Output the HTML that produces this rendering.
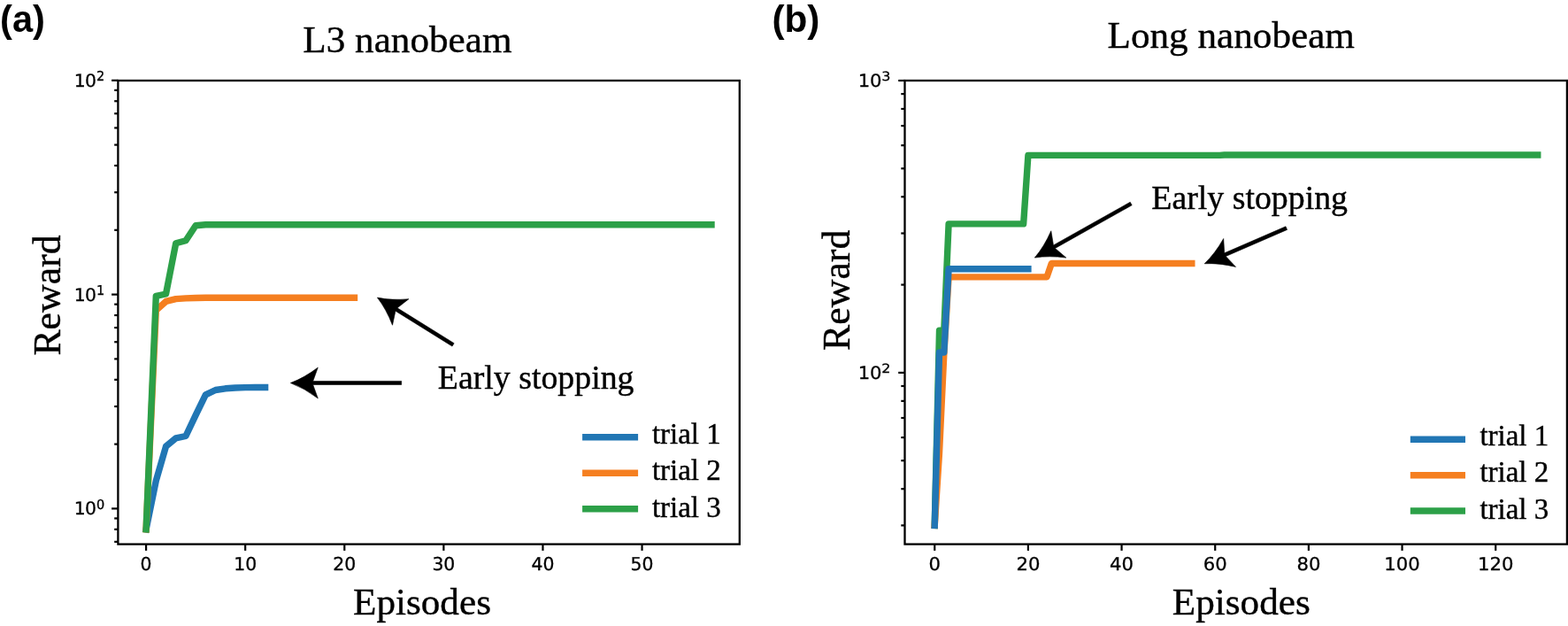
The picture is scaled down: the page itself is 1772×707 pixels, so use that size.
<!DOCTYPE html>
<html><head><meta charset="utf-8"><title>Reward vs Episodes</title>
<style>html,body{margin:0;padding:0;background:#fff;} svg{display:block;}</style>
</head><body>
<svg width="1772" height="707" viewBox="0 0 1772 707">
<rect width="1772" height="707" fill="#fff"/>
<path d="M165.1,597.8 L176.31,543 L187.52,504.2 L198.73,494.9 L209.94,492.5 L221.14,468.8 L232.35,445.8 L243.56,440.5 L254.77,438.8 L265.98,438 L277.19,437.6 L288.4,437.5 L299.61,437.5" fill="none" stroke="#2176b4" stroke-width="7.4" stroke-linecap="square" stroke-linejoin="round"/>
<path d="M165.1,597.8 L176.31,350.6 L187.52,340.4 L198.73,337.6 L209.94,336.9 L221.14,336.5 L232.35,336.2 L243.56,336.2 L254.77,336.2 L265.98,336.2 L277.19,336.2 L288.4,336.2 L299.61,336.2 L310.82,336.2 L322.03,336.2 L333.24,336.2 L344.44,336.2 L355.65,336.2 L366.86,336.2 L378.07,336.2 L389.28,336.2 L400.49,336.2" fill="none" stroke="#f57f20" stroke-width="7.4" stroke-linecap="square" stroke-linejoin="round"/>
<path d="M165.1,597.8 L176.31,334.3 L187.52,332 L198.73,274.8 L209.94,271.8 L221.14,254.8 L232.35,253.8 L243.56,253.8 L254.77,253.8 L265.98,253.8 L277.19,253.8 L288.4,253.8 L299.61,253.8 L310.82,253.8 L322.03,253.8 L333.24,253.8 L344.44,253.8 L355.65,253.8 L366.86,253.8 L378.07,253.8 L389.28,253.8 L400.49,253.8 L411.7,253.8 L422.91,253.8 L434.12,253.8 L445.32,253.8 L456.53,253.8 L467.74,253.8 L478.95,253.8 L490.16,253.8 L501.37,253.8 L512.58,253.8 L523.79,253.8 L535,253.8 L546.21,253.8 L557.41,253.8 L568.62,253.8 L579.83,253.8 L591.04,253.8 L602.25,253.8 L613.46,253.8 L624.67,253.8 L635.88,253.8 L647.09,253.8 L658.3,253.8 L669.5,253.8 L680.71,253.8 L691.92,253.8 L703.13,253.8 L714.34,253.8 L725.55,253.8 L736.76,253.8 L747.97,253.8 L759.18,253.8 L770.39,253.8 L781.6,253.8 L792.8,253.8 L804.01,253.8" fill="none" stroke="#2ca048" stroke-width="7.4" stroke-linecap="square" stroke-linejoin="round"/>
<line x1="165.1" y1="614.6" x2="165.1" y2="621.9" stroke="#000" stroke-width="2.2" stroke-linecap="butt"/>
<text x="0" y="0" font-size="20.4" font-family='"DejaVu Sans", sans-serif' font-weight="normal" text-anchor="middle" stroke="#000" stroke-width="0.3" text-rendering="geometricPrecision" transform="translate(165.1,643.5) scale(1,1.0)">0</text>
<line x1="277.19" y1="614.6" x2="277.19" y2="621.9" stroke="#000" stroke-width="2.2" stroke-linecap="butt"/>
<text x="0" y="0" font-size="20.4" font-family='"DejaVu Sans", sans-serif' font-weight="normal" text-anchor="middle" stroke="#000" stroke-width="0.3" text-rendering="geometricPrecision" transform="translate(277.19,643.5) scale(1,1.0)">10</text>
<line x1="389.28" y1="614.6" x2="389.28" y2="621.9" stroke="#000" stroke-width="2.2" stroke-linecap="butt"/>
<text x="0" y="0" font-size="20.4" font-family='"DejaVu Sans", sans-serif' font-weight="normal" text-anchor="middle" stroke="#000" stroke-width="0.3" text-rendering="geometricPrecision" transform="translate(389.28,643.5) scale(1,1.0)">20</text>
<line x1="501.37" y1="614.6" x2="501.37" y2="621.9" stroke="#000" stroke-width="2.2" stroke-linecap="butt"/>
<text x="0" y="0" font-size="20.4" font-family='"DejaVu Sans", sans-serif' font-weight="normal" text-anchor="middle" stroke="#000" stroke-width="0.3" text-rendering="geometricPrecision" transform="translate(501.37,643.5) scale(1,1.0)">30</text>
<line x1="613.46" y1="614.6" x2="613.46" y2="621.9" stroke="#000" stroke-width="2.2" stroke-linecap="butt"/>
<text x="0" y="0" font-size="20.4" font-family='"DejaVu Sans", sans-serif' font-weight="normal" text-anchor="middle" stroke="#000" stroke-width="0.3" text-rendering="geometricPrecision" transform="translate(613.46,643.5) scale(1,1.0)">40</text>
<line x1="725.55" y1="614.6" x2="725.55" y2="621.9" stroke="#000" stroke-width="2.2" stroke-linecap="butt"/>
<text x="0" y="0" font-size="20.4" font-family='"DejaVu Sans", sans-serif' font-weight="normal" text-anchor="middle" stroke="#000" stroke-width="0.3" text-rendering="geometricPrecision" transform="translate(725.55,643.5) scale(1,1.0)">50</text>
<line x1="129.2" y1="611.86" x2="133.4" y2="611.86" stroke="#000" stroke-width="2.2" stroke-linecap="butt"/>
<line x1="129.2" y1="597.83" x2="133.4" y2="597.83" stroke="#000" stroke-width="2.2" stroke-linecap="butt"/>
<line x1="129.2" y1="585.46" x2="133.4" y2="585.46" stroke="#000" stroke-width="2.2" stroke-linecap="butt"/>
<line x1="129.2" y1="501.61" x2="133.4" y2="501.61" stroke="#000" stroke-width="2.2" stroke-linecap="butt"/>
<line x1="129.2" y1="459.03" x2="133.4" y2="459.03" stroke="#000" stroke-width="2.2" stroke-linecap="butt"/>
<line x1="129.2" y1="428.82" x2="133.4" y2="428.82" stroke="#000" stroke-width="2.2" stroke-linecap="butt"/>
<line x1="129.2" y1="405.39" x2="133.4" y2="405.39" stroke="#000" stroke-width="2.2" stroke-linecap="butt"/>
<line x1="129.2" y1="386.24" x2="133.4" y2="386.24" stroke="#000" stroke-width="2.2" stroke-linecap="butt"/>
<line x1="129.2" y1="370.06" x2="133.4" y2="370.06" stroke="#000" stroke-width="2.2" stroke-linecap="butt"/>
<line x1="129.2" y1="356.03" x2="133.4" y2="356.03" stroke="#000" stroke-width="2.2" stroke-linecap="butt"/>
<line x1="129.2" y1="343.66" x2="133.4" y2="343.66" stroke="#000" stroke-width="2.2" stroke-linecap="butt"/>
<line x1="129.2" y1="259.81" x2="133.4" y2="259.81" stroke="#000" stroke-width="2.2" stroke-linecap="butt"/>
<line x1="129.2" y1="217.23" x2="133.4" y2="217.23" stroke="#000" stroke-width="2.2" stroke-linecap="butt"/>
<line x1="129.2" y1="187.02" x2="133.4" y2="187.02" stroke="#000" stroke-width="2.2" stroke-linecap="butt"/>
<line x1="129.2" y1="163.59" x2="133.4" y2="163.59" stroke="#000" stroke-width="2.2" stroke-linecap="butt"/>
<line x1="129.2" y1="144.44" x2="133.4" y2="144.44" stroke="#000" stroke-width="2.2" stroke-linecap="butt"/>
<line x1="129.2" y1="128.26" x2="133.4" y2="128.26" stroke="#000" stroke-width="2.2" stroke-linecap="butt"/>
<line x1="129.2" y1="114.23" x2="133.4" y2="114.23" stroke="#000" stroke-width="2.2" stroke-linecap="butt"/>
<line x1="129.2" y1="101.86" x2="133.4" y2="101.86" stroke="#000" stroke-width="2.2" stroke-linecap="butt"/>
<line x1="126.1" y1="574.4" x2="133.4" y2="574.4" stroke="#000" stroke-width="2.2" stroke-linecap="butt"/>
<line x1="126.1" y1="332.6" x2="133.4" y2="332.6" stroke="#000" stroke-width="2.2" stroke-linecap="butt"/>
<line x1="126.1" y1="90.8" x2="133.4" y2="90.8" stroke="#000" stroke-width="2.2" stroke-linecap="butt"/>
<rect x="133.4" y="91" width="702.4" height="523.6" fill="none" stroke="#000" stroke-width="2.3" stroke-linejoin="miter"/>
<text x="0" y="0" font-size="14.5" font-family='"DejaVu Sans", sans-serif' font-weight="normal" text-anchor="end" stroke="#000" stroke-width="0.3" text-rendering="geometricPrecision" transform="translate(118.14,574.5) scale(1,1.03)">0</text>
<text x="0" y="0" font-size="20.4" font-family='"DejaVu Sans", sans-serif' font-weight="normal" text-anchor="end" stroke="#000" stroke-width="0.3" letter-spacing="-0.8" text-rendering="geometricPrecision" transform="translate(108.16,581.3) scale(1,0.98)">10</text>
<text x="0" y="0" font-size="14.5" font-family='"DejaVu Sans", sans-serif' font-weight="normal" text-anchor="end" stroke="#000" stroke-width="0.3" text-rendering="geometricPrecision" transform="translate(118.14,332.7) scale(1,1.03)">1</text>
<text x="0" y="0" font-size="20.4" font-family='"DejaVu Sans", sans-serif' font-weight="normal" text-anchor="end" stroke="#000" stroke-width="0.3" letter-spacing="-0.8" text-rendering="geometricPrecision" transform="translate(108.16,339.5) scale(1,0.98)">10</text>
<text x="0" y="0" font-size="14.5" font-family='"DejaVu Sans", sans-serif' font-weight="normal" text-anchor="end" stroke="#000" stroke-width="0.3" text-rendering="geometricPrecision" transform="translate(118.14,90.9) scale(1,1.03)">2</text>
<text x="0" y="0" font-size="20.4" font-family='"DejaVu Sans", sans-serif' font-weight="normal" text-anchor="end" stroke="#000" stroke-width="0.3" letter-spacing="-0.8" text-rendering="geometricPrecision" transform="translate(108.16,97.7) scale(1,0.98)">10</text>
<path d="M1056.25,593.4 L1061.53,373.3 L1066.82,373.3 L1072.1,252.9 L1077.38,252.9 L1082.66,252.9 L1087.95,252.9 L1093.23,252.9 L1098.51,252.9 L1103.8,252.9 L1109.08,252.9 L1114.36,252.9 L1119.65,252.9 L1124.93,252.9 L1130.21,252.9 L1135.49,252.9 L1140.78,252.9 L1146.06,252.9 L1151.34,252.9 L1156.63,252.9 L1161.91,175.4 L1167.19,175.4 L1172.48,175.4 L1177.76,175.4 L1183.04,175.4 L1188.33,175.4 L1193.61,175.4 L1198.89,175.4 L1204.17,175.4 L1209.46,175.4 L1214.74,175.4 L1220.02,175.4 L1225.31,175.4 L1230.59,175.4 L1235.87,175.4 L1241.15,175.4 L1246.44,175.4 L1251.72,175.4 L1257,175.4 L1262.29,175.4 L1267.57,175.4 L1272.85,175.4 L1278.14,175.4 L1283.42,175.4 L1288.7,175.4 L1293.99,175.4 L1299.27,175.4 L1304.55,175.4 L1309.83,175.4 L1315.12,175.4 L1320.4,175.4 L1325.68,175.4 L1330.97,175.4 L1336.25,175.4 L1341.53,175.4 L1346.82,175.4 L1352.1,175.4 L1357.38,175.4 L1362.66,175.4 L1367.95,175.4 L1373.23,175.4 L1378.51,175.4 L1383.8,175 L1389.08,175 L1394.36,175 L1399.64,175 L1404.93,175 L1410.21,175 L1415.49,175 L1420.78,175 L1426.06,175 L1431.34,175 L1436.63,175 L1441.91,175 L1447.19,175 L1452.47,175 L1457.76,175 L1463.04,175 L1468.32,175 L1473.61,175 L1478.89,175 L1484.17,175 L1489.46,175 L1494.74,175 L1500.02,175 L1505.31,175 L1510.59,175 L1515.87,175 L1521.15,175 L1526.44,175 L1531.72,175 L1537,175 L1542.29,175 L1547.57,175 L1552.85,175 L1558.13,175 L1563.42,175 L1568.7,175 L1573.98,175 L1579.27,175 L1584.55,175 L1589.83,175 L1595.12,175 L1600.4,175 L1605.68,175 L1610.97,175 L1616.25,175 L1621.53,175 L1626.81,175 L1632.1,175 L1637.38,175 L1642.66,175 L1647.95,175 L1653.23,175 L1658.51,175 L1663.8,175 L1669.08,175 L1674.36,175 L1679.64,175 L1684.93,175 L1690.21,175 L1695.49,175 L1700.78,175 L1706.06,175 L1711.34,175 L1716.62,175 L1721.91,175 L1727.19,175 L1732.47,175 L1737.76,175" fill="none" stroke="#2ca048" stroke-width="7.4" stroke-linecap="square" stroke-linejoin="round"/>
<path d="M1056.25,593.4 L1061.53,511.6 L1066.82,400 L1072.1,312.9 L1077.38,312.9 L1082.66,312.9 L1087.95,312.9 L1093.23,312.9 L1098.51,312.9 L1103.8,312.9 L1109.08,312.9 L1114.36,312.9 L1119.65,312.9 L1124.93,312.9 L1130.21,312.9 L1135.49,312.9 L1140.78,312.9 L1146.06,312.9 L1151.34,312.9 L1156.63,312.9 L1161.91,312.9 L1167.19,312.9 L1172.48,312.9 L1177.76,312.9 L1183.04,312.9 L1188.33,297.5 L1193.61,297.5 L1198.89,297.5 L1204.17,297.5 L1209.46,297.5 L1214.74,297.5 L1220.02,297.5 L1225.31,297.5 L1230.59,297.5 L1235.87,297.5 L1241.15,297.5 L1246.44,297.5 L1251.72,297.5 L1257,297.5 L1262.29,297.5 L1267.57,297.5 L1272.85,297.5 L1278.14,297.5 L1283.42,297.5 L1288.7,297.5 L1293.99,297.5 L1299.27,297.5 L1304.55,297.5 L1309.83,297.5 L1315.12,297.5 L1320.4,297.5 L1325.68,297.5 L1330.97,297.5 L1336.25,297.5 L1341.53,297.5 L1346.82,297.5" fill="none" stroke="#f57f20" stroke-width="7.4" stroke-linecap="square" stroke-linejoin="round"/>
<path d="M1056.25,593.4 L1061.53,398 L1066.82,398 L1072.1,303.7 L1077.38,303.7 L1082.66,303.7 L1087.95,303.7 L1093.23,303.7 L1098.51,303.7 L1103.8,303.7 L1109.08,303.7 L1114.36,303.7 L1119.65,303.7 L1124.93,303.7 L1130.21,303.7 L1135.49,303.7 L1140.78,303.7 L1146.06,303.7 L1151.34,303.7 L1156.63,303.7 L1161.91,303.7" fill="none" stroke="#2176b4" stroke-width="7.4" stroke-linecap="square" stroke-linejoin="round"/>
<line x1="1056.25" y1="614.6" x2="1056.25" y2="621.9" stroke="#000" stroke-width="2.2" stroke-linecap="butt"/>
<text x="0" y="0" font-size="21.2" font-family='"DejaVu Sans", sans-serif' font-weight="normal" text-anchor="middle" stroke="#000" stroke-width="0.3" text-rendering="geometricPrecision" transform="translate(1056.25,643.5) scale(1,0.96)">0</text>
<line x1="1161.91" y1="614.6" x2="1161.91" y2="621.9" stroke="#000" stroke-width="2.2" stroke-linecap="butt"/>
<text x="0" y="0" font-size="21.2" font-family='"DejaVu Sans", sans-serif' font-weight="normal" text-anchor="middle" stroke="#000" stroke-width="0.3" text-rendering="geometricPrecision" transform="translate(1161.91,643.5) scale(1,0.96)">20</text>
<line x1="1267.57" y1="614.6" x2="1267.57" y2="621.9" stroke="#000" stroke-width="2.2" stroke-linecap="butt"/>
<text x="0" y="0" font-size="21.2" font-family='"DejaVu Sans", sans-serif' font-weight="normal" text-anchor="middle" stroke="#000" stroke-width="0.3" text-rendering="geometricPrecision" transform="translate(1267.57,643.5) scale(1,0.96)">40</text>
<line x1="1373.23" y1="614.6" x2="1373.23" y2="621.9" stroke="#000" stroke-width="2.2" stroke-linecap="butt"/>
<text x="0" y="0" font-size="21.2" font-family='"DejaVu Sans", sans-serif' font-weight="normal" text-anchor="middle" stroke="#000" stroke-width="0.3" text-rendering="geometricPrecision" transform="translate(1373.23,643.5) scale(1,0.96)">60</text>
<line x1="1478.89" y1="614.6" x2="1478.89" y2="621.9" stroke="#000" stroke-width="2.2" stroke-linecap="butt"/>
<text x="0" y="0" font-size="21.2" font-family='"DejaVu Sans", sans-serif' font-weight="normal" text-anchor="middle" stroke="#000" stroke-width="0.3" text-rendering="geometricPrecision" transform="translate(1478.89,643.5) scale(1,0.96)">80</text>
<line x1="1584.55" y1="614.6" x2="1584.55" y2="621.9" stroke="#000" stroke-width="2.2" stroke-linecap="butt"/>
<text x="0" y="0" font-size="21.2" font-family='"DejaVu Sans", sans-serif' font-weight="normal" text-anchor="middle" stroke="#000" stroke-width="0.3" text-rendering="geometricPrecision" transform="translate(1584.55,643.5) scale(1,0.96)">100</text>
<line x1="1690.21" y1="614.6" x2="1690.21" y2="621.9" stroke="#000" stroke-width="2.2" stroke-linecap="butt"/>
<text x="0" y="0" font-size="21.2" font-family='"DejaVu Sans", sans-serif' font-weight="normal" text-anchor="middle" stroke="#000" stroke-width="0.3" text-rendering="geometricPrecision" transform="translate(1690.21,643.5) scale(1,0.96)">120</text>
<line x1="1018.3" y1="593.4" x2="1022.5" y2="593.4" stroke="#000" stroke-width="2.2" stroke-linecap="butt"/>
<line x1="1018.3" y1="552.18" x2="1022.5" y2="552.18" stroke="#000" stroke-width="2.2" stroke-linecap="butt"/>
<line x1="1018.3" y1="520.21" x2="1022.5" y2="520.21" stroke="#000" stroke-width="2.2" stroke-linecap="butt"/>
<line x1="1018.3" y1="494.09" x2="1022.5" y2="494.09" stroke="#000" stroke-width="2.2" stroke-linecap="butt"/>
<line x1="1018.3" y1="472" x2="1022.5" y2="472" stroke="#000" stroke-width="2.2" stroke-linecap="butt"/>
<line x1="1018.3" y1="452.87" x2="1022.5" y2="452.87" stroke="#000" stroke-width="2.2" stroke-linecap="butt"/>
<line x1="1018.3" y1="436" x2="1022.5" y2="436" stroke="#000" stroke-width="2.2" stroke-linecap="butt"/>
<line x1="1018.3" y1="321.59" x2="1022.5" y2="321.59" stroke="#000" stroke-width="2.2" stroke-linecap="butt"/>
<line x1="1018.3" y1="263.5" x2="1022.5" y2="263.5" stroke="#000" stroke-width="2.2" stroke-linecap="butt"/>
<line x1="1018.3" y1="222.28" x2="1022.5" y2="222.28" stroke="#000" stroke-width="2.2" stroke-linecap="butt"/>
<line x1="1018.3" y1="190.31" x2="1022.5" y2="190.31" stroke="#000" stroke-width="2.2" stroke-linecap="butt"/>
<line x1="1018.3" y1="164.19" x2="1022.5" y2="164.19" stroke="#000" stroke-width="2.2" stroke-linecap="butt"/>
<line x1="1018.3" y1="142.1" x2="1022.5" y2="142.1" stroke="#000" stroke-width="2.2" stroke-linecap="butt"/>
<line x1="1018.3" y1="122.97" x2="1022.5" y2="122.97" stroke="#000" stroke-width="2.2" stroke-linecap="butt"/>
<line x1="1018.3" y1="106.1" x2="1022.5" y2="106.1" stroke="#000" stroke-width="2.2" stroke-linecap="butt"/>
<line x1="1015.2" y1="420.9" x2="1022.5" y2="420.9" stroke="#000" stroke-width="2.2" stroke-linecap="butt"/>
<line x1="1015.2" y1="91" x2="1022.5" y2="91" stroke="#000" stroke-width="2.2" stroke-linecap="butt"/>
<rect x="1022.5" y="91" width="748.4" height="523.6" fill="none" stroke="#000" stroke-width="2.3" stroke-linejoin="miter"/>
<text x="0" y="0" font-size="16.0" font-family='"DejaVu Sans", sans-serif' font-weight="normal" text-anchor="end" stroke="#000" stroke-width="0.3" text-rendering="geometricPrecision" transform="translate(1006.4,421) scale(1,0.88)">2</text>
<text x="0" y="0" font-size="21.2" font-family='"DejaVu Sans", sans-serif' font-weight="normal" text-anchor="end" stroke="#000" stroke-width="0.3" text-rendering="geometricPrecision" transform="translate(996.6,427.8) scale(1,0.94)">10</text>
<text x="0" y="0" font-size="16.0" font-family='"DejaVu Sans", sans-serif' font-weight="normal" text-anchor="end" stroke="#000" stroke-width="0.3" text-rendering="geometricPrecision" transform="translate(1006.4,91.1) scale(1,0.88)">3</text>
<text x="0" y="0" font-size="21.2" font-family='"DejaVu Sans", sans-serif' font-weight="normal" text-anchor="end" stroke="#000" stroke-width="0.3" text-rendering="geometricPrecision" transform="translate(996.6,97.9) scale(1,0.94)">10</text>
<path d="M426.4,336.1 Q436.55,349.13 443.53,367.25 L446.93,351.22 L511.04,391.1 L513.16,387.7 L449.04,347.83 L461.91,337.7 Q442.57,339.45 426.4,336.1 Z" fill="#000" stroke="#000" stroke-width="0.6" stroke-linejoin="miter"/>
<path d="M328.3,432.5 Q343.8,438.19 359.31,449.88 L353.72,434.48 L453.7,434.4 L453.7,430.4 L353.72,430.48 L359.29,415.08 Q343.8,426.79 328.3,432.5 Z" fill="#000" stroke="#000" stroke-width="0.6" stroke-linejoin="miter"/>
<path d="M1169.3,291.1 Q1185.61,288.49 1204.85,291.11 L1192.45,280.41 L1279.18,231.74 L1277.22,228.26 L1190.49,276.92 L1187.82,260.76 Q1180.03,278.54 1169.3,291.1 Z" fill="#000" stroke="#000" stroke-width="0.6" stroke-linejoin="miter"/>
<path d="M1361.2,297.8 Q1377.69,296.86 1396.57,301.42 L1385.31,289.51 L1454.6,259.43 L1453,255.77 L1383.72,285.84 L1382.71,269.49 Q1373.15,286.4 1361.2,297.8 Z" fill="#000" stroke="#000" stroke-width="0.6" stroke-linejoin="miter"/>
<text x="0.1" y="35.7" font-size="41.6" font-family='"Liberation Sans", Arial, sans-serif' font-weight="bold" text-anchor="start" >(a)</text>
<text x="872.4" y="36" font-size="42.3" font-family='"Liberation Sans", Arial, sans-serif' font-weight="bold" text-anchor="start" >(b)</text>
<text x="342.3" y="59.2" font-size="43.2" font-family='"Liberation Serif", "Times New Roman", serif' font-weight="normal" text-anchor="start" stroke="#000" stroke-width="0.4" >L3 nanobeam</text>
<text x="1251.5" y="54.4" font-size="43.2" font-family='"Liberation Serif", "Times New Roman", serif' font-weight="normal" text-anchor="start" stroke="#000" stroke-width="0.4" >Long nanobeam</text>
<text x="399" y="693.9" font-size="43.2" font-family='"Liberation Serif", "Times New Roman", serif' font-weight="normal" text-anchor="start" stroke="#000" stroke-width="0.4" >Episodes</text>
<text x="1324.8" y="694" font-size="43.2" font-family='"Liberation Serif", "Times New Roman", serif' font-weight="normal" text-anchor="start" stroke="#000" stroke-width="0.4" >Episodes</text>
<text x="0" y="0" font-size="43.8" font-family='"Liberation Serif", "Times New Roman", serif' font-weight="normal" text-anchor="start" stroke="#000" stroke-width="0.4" transform="translate(68.4,401.6) rotate(-90)">Reward</text>
<text x="0" y="0" font-size="43.8" font-family='"Liberation Serif", "Times New Roman", serif' font-weight="normal" text-anchor="start" stroke="#000" stroke-width="0.4" transform="translate(959.8,395.9) rotate(-90)">Reward</text>
<text x="494.8" y="439" font-size="37.85" font-family='"Liberation Serif", "Times New Roman", serif' font-weight="normal" text-anchor="start" stroke="#000" stroke-width="0.4" >Early stopping</text>
<text x="1301.3" y="235.6" font-size="37.85" font-family='"Liberation Serif", "Times New Roman", serif' font-weight="normal" text-anchor="start" stroke="#000" stroke-width="0.4" >Early stopping</text>
<line x1="658.1" y1="493.8" x2="721.1" y2="493.8" stroke="#2176b4" stroke-width="7.4" stroke-linecap="butt"/>
<text x="736.9" y="501.1" font-size="33.0" font-family='"Liberation Serif", "Times New Roman", serif' font-weight="normal" text-anchor="start" stroke="#000" stroke-width="0.4" >trial 1</text>
<line x1="1593.8" y1="496.3" x2="1656" y2="496.3" stroke="#2176b4" stroke-width="7.4" stroke-linecap="butt"/>
<text x="1672.4" y="503.2" font-size="33.0" font-family='"Liberation Serif", "Times New Roman", serif' font-weight="normal" text-anchor="start" stroke="#000" stroke-width="0.4" >trial 1</text>
<line x1="658.1" y1="534.2" x2="721.1" y2="534.2" stroke="#f57f20" stroke-width="7.4" stroke-linecap="butt"/>
<text x="736.9" y="541.8" font-size="33.0" font-family='"Liberation Serif", "Times New Roman", serif' font-weight="normal" text-anchor="start" stroke="#000" stroke-width="0.4" >trial 2</text>
<line x1="1593.8" y1="536.8" x2="1656" y2="536.8" stroke="#f57f20" stroke-width="7.4" stroke-linecap="butt"/>
<text x="1672.4" y="544.2" font-size="33.0" font-family='"Liberation Serif", "Times New Roman", serif' font-weight="normal" text-anchor="start" stroke="#000" stroke-width="0.4" >trial 2</text>
<line x1="658.1" y1="574.7" x2="721.1" y2="574.7" stroke="#2ca048" stroke-width="7.4" stroke-linecap="butt"/>
<text x="736.9" y="584" font-size="33.0" font-family='"Liberation Serif", "Times New Roman", serif' font-weight="normal" text-anchor="start" stroke="#000" stroke-width="0.4" >trial 3</text>
<line x1="1593.8" y1="577" x2="1656" y2="577" stroke="#2ca048" stroke-width="7.4" stroke-linecap="butt"/>
<text x="1672.4" y="586.1" font-size="33.0" font-family='"Liberation Serif", "Times New Roman", serif' font-weight="normal" text-anchor="start" stroke="#000" stroke-width="0.4" >trial 3</text>
</svg>
</body></html>
